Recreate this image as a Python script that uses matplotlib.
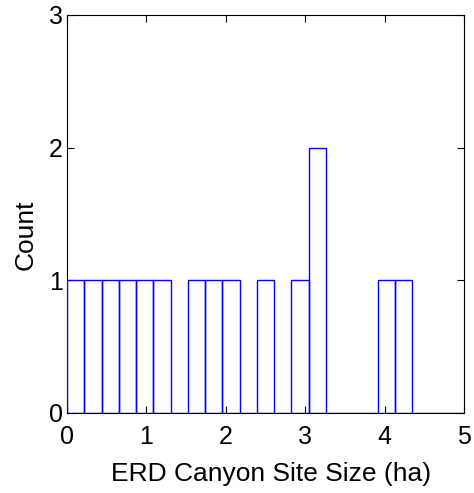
import matplotlib
matplotlib.use('Agg')
import matplotlib.pyplot as plt
import numpy as np

# histogram of site sizes, 23 equal bins between 0 and 5 ha
bin_lo = 0.0
bin_hi = 5.0
counts = [1, 1, 1, 1, 1, 1, 0, 1, 1, 1, 0, 1, 0, 1, 2, 0, 0, 0, 1, 1, 0, 0, 0]
x_ticks = [0, 1, 2, 3, 4, 5]
y_ticks = [0, 1, 2, 3]


def main():
    plt.rcParams['font.family'] = ['Liberation Sans', 'DejaVu Sans']

    edges = np.linspace(bin_lo, bin_hi, len(counts) + 1)
    width = edges[1] - edges[0]

    fig = plt.figure(figsize=(4.74, 4.93), dpi=100)
    ax = fig.add_axes([0.1414, 0.1623, 0.9789 - 0.1414, 0.9696 - 0.1623])

    ax.bar(edges[:-1], counts, width=width, align='edge',
           facecolor='none', edgecolor='#0000ff', linewidth=1.0, zorder=3)

    ax.set_xlim(0, 5)
    ax.set_ylim(0, 3)
    ax.set_xticks(x_ticks)
    ax.set_yticks(y_ticks)
    ax.tick_params(direction='in', length=5, width=0.8, labelsize=18,
                   top=True, right=True)
    ax.tick_params(axis='x', pad=9)
    ax.tick_params(axis='y', pad=3)
    for s in ax.spines.values():
        s.set_linewidth(0.8)

    ax.set_xlabel('ERD Canyon Site Size (ha)', fontsize=19, labelpad=9)
    ax.set_ylabel('Count', fontsize=19, labelpad=8)
    ax.xaxis.label.set_x(0.515)
    ax.yaxis.label.set_y(0.447)

    fig.savefig('out.png', dpi=100)


if __name__ == '__main__':
    main()
